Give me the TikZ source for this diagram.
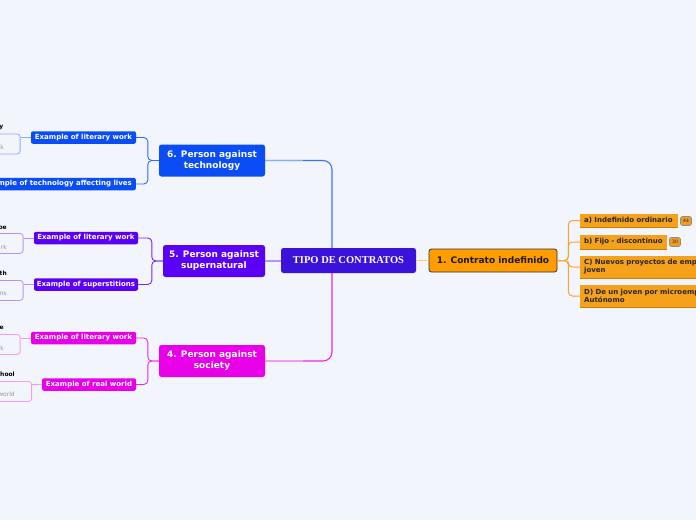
\documentclass[tikz,border=0pt]{standalone}
\usepackage{fontspec}
\newfontfamily\dv{DejaVu Sans}
\newfontfamily\ls{Liberation Serif}
\definecolor{bg}{HTML}{F3F5FD}
\definecolor{ccen}{HTML}{3A12D9}
\definecolor{csix}{HTML}{0B4DF5}
\definecolor{cfive}{HTML}{5A00F5}
\definecolor{cfour}{HTML}{E800E8}
\definecolor{lsix}{HTML}{8DAAF8}
\definecolor{lfive}{HTML}{B793F7}
\definecolor{lfour}{HTML}{F39BF3}
\definecolor{omain}{HTML}{FF9C00}
\definecolor{ochild}{HTML}{F5A11C}
\definecolor{odark}{HTML}{C98000}
\definecolor{olight}{HTML}{FFC878}
\definecolor{oline}{HTML}{F7A431}
\begin{document}
\begin{tikzpicture}[x=1pt,y=-1pt,
  box/.style={rectangle, rounded corners=2.5pt, inner sep=0pt, align=center, text=white},
  topic/.style={box, font=\dv\bfseries\fontsize{9}{11}\selectfont, minimum height=32pt},
  sub/.style={box, font=\dv\bfseries\fontsize{7}{8}\selectfont, minimum height=12.5pt, rounded corners=2pt},
  leafbox/.style={rectangle, rounded corners=3pt, draw, line width=0.8pt, anchor=north east, minimum width=60pt, inner sep=0pt},
  leafhead/.style={anchor=east, inner sep=0pt, font=\dv\bfseries\fontsize{6}{7}\selectfont, text=black},
  leaftext/.style={anchor=east, inner sep=0pt, font=\dv\fontsize{6}{7}\selectfont, text=black!40},
  och/.style={rectangle, fill=ochild, anchor=west, inner xsep=4pt, inner ysep=0pt, align=left, font=\dv\bfseries\fontsize{7}{8}\selectfont, text=black!85},
  badge/.style={rectangle, rounded corners=2pt, draw=black!45, line width=0.6pt, fill=ochild!85!brown, inner sep=0pt, minimum width=11pt, minimum height=9pt, font=\dv\fontsize{4.5}{5}\selectfont, text=black!85},
  conn/.style={line width=1.1pt, rounded corners=9pt},
  sconn/.style={line width=0.9pt, rounded corners=4pt},
  lconn/.style={line width=0.8pt}
]
\useasboundingbox (0,0) rectangle (696,520);
\fill[bg] (0,0) rectangle (696,520);
\begin{scope}
\clip (0,0) rectangle (696,520);

% central and topics
\node[box, fill=ccen, minimum width=135pt, minimum height=25pt, font=\ls\bfseries\fontsize{10.5}{12}\selectfont] (cen) at (348.5,260.5) {TIPO DE CONTRATOS};
\node[topic, fill=csix, minimum width=106pt] (t6) at (212,160.5) {6. Person against\\technology};
\node[topic, fill=cfive, minimum width=102pt] (t5) at (214,261) {5. Person against\\supernatural};
\node[topic, fill=cfour, minimum width=106pt] (t4) at (212,361) {4. Person against\\society};
\node[rectangle, draw=black!80, line width=0.8pt, fill=omain, rounded corners=2.5pt, minimum width=128pt, minimum height=23pt, inner sep=0pt, font=\dv\bfseries\fontsize{9}{11}\selectfont, text=black!90] (m1) at (493,260.5) {1. Contrato indefinido};

% central connectors
\draw[conn, csix!80!white] (t6.east) -| ([xshift=-16.5pt]cen.north);
\draw[line width=1.1pt, lsix] (t6.east) -- ++(38,0);
\draw[conn, cfour!85!white] (t4.east) -| ([xshift=-16.5pt]cen.south);
\draw[line width=1.1pt, lfour] (t4.east) -- ++(38,0);
\draw[line width=1.1pt, lfive] (t5.east) -- (cen.west |- t5.east);
\draw[line width=1.1pt, olight] (cen.east) -- (m1.west |- cen.east);

% orange children
\node[och, text width=90pt, minimum height=13pt] (ca) at (580,220.5) {a) Indefinido ordinario};
\node[och, text width=79pt, minimum height=14pt] (cb) at (580,242) {b) Fijo - discontinuo};
\node[och, text width=140pt, minimum height=22pt] (cc) at (580,267) {C) Nuevos proyectos de emp\\joven};
\node[och, text width=140pt, minimum height=22pt] (cd) at (580,296) {D) De un joven por microemp\\Autónomo};
\foreach \n in {ca,cb,cc,cd}{\draw[odark, line width=1.2pt] (\n.south west) -- (\n.south east);}
\node[badge] (ba) at (686,221) {44};
\node[badge] (bb) at (675,242) {30};
\foreach \n in {ca,cb,cc,cd}{\draw[sconn, oline, line width=1pt] (m1.east) -- ++(11,0) |- (\n.west);}

% 6 branch
\node[sub, fill=csix, minimum width=105pt] (s6a) at (83.5,137.5) {Example of literary work};
\node[sub, fill=csix, anchor=east, inner xsep=4pt] (s6b) at (136,184) {Example of technology affecting lives};
\draw[sconn, csix!85!white] (t6.west) -- ++(-11,0) |- (s6a.east);
\draw[sconn, csix!85!white] (t6.west) -- ++(-11,0) |- (s6b.east);
\node[leafbox, draw=lsix, minimum height=20pt] (l6a) at (20.5,133.5) {};
\draw[lconn, lsix] (s6a.west) -- (l6a.east |- s6a.west);
\node[leafhead] (h6a) at (3.5,127.5) {y};
\node[leaftext] (g6a) at (4,147) {k};

% 5 branch
\node[sub, fill=cfive, minimum width=104pt] (s5a) at (86,238) {Example of literary work};
\node[sub, fill=cfive, minimum width=104pt] (s5b) at (86,284.5) {Example of superstitions};
\draw[sconn, cfive!85!white] (t5.west) -- ++(-11,0) |- (s5a.east);
\draw[sconn, cfive!85!white] (t5.west) -- ++(-11,0) |- (s5b.east);
\node[leafbox, draw=lfive, minimum height=20pt] (l5a) at (23.5,233) {};
\node[leafbox, draw=lfive, minimum height=20pt] (l5b) at (23.5,280) {};
\draw[lconn, lfive] (s5a.west) -- (l5a.east |- s5a.west);
\draw[lconn, lfive] (s5b.west) -- (l5b.east |- s5b.west);
\node[leafhead] (h5a) at (7,227.5) {oe};
\node[leaftext] (g5a) at (7,247) {rk};
\node[leafhead] (h5b) at (7,273.5) {th};
\node[leaftext] (g5b) at (7,294) {ns};

% 4 branch
\node[sub, fill=cfour, minimum width=105pt] (s4a) at (83.5,338) {Example of literary work};
\node[sub, fill=cfour, minimum width=94pt] (s4b) at (89,384.5) {Example of real world};
\draw[sconn, cfour!85!white] (t4.west) -- ++(-11,0) |- (s4a.east);
\draw[sconn, cfour!85!white] (t4.west) -- ++(-11,0) |- (s4b.east);
\node[leafbox, draw=lfour, minimum height=20pt] (l4a) at (20.5,334) {};
\node[leafbox, draw=lfour, minimum height=20pt] (l4b) at (32,381) {};
\draw[lconn, lfour] (s4a.west) -- (l4a.east |- s4a.west);
\draw[lconn, lfour] (s4b.west) -- (l4b.east |- s4b.west);
\node[leafhead] (h4a) at (4,328) {e};
\node[leaftext] (g4a) at (4,348) {rk};
\node[leafhead] (h4b) at (15,374.5) {chool};
\node[leaftext] (g4b) at (15,394) {world};
\end{scope}
\end{tikzpicture}
\end{document}
